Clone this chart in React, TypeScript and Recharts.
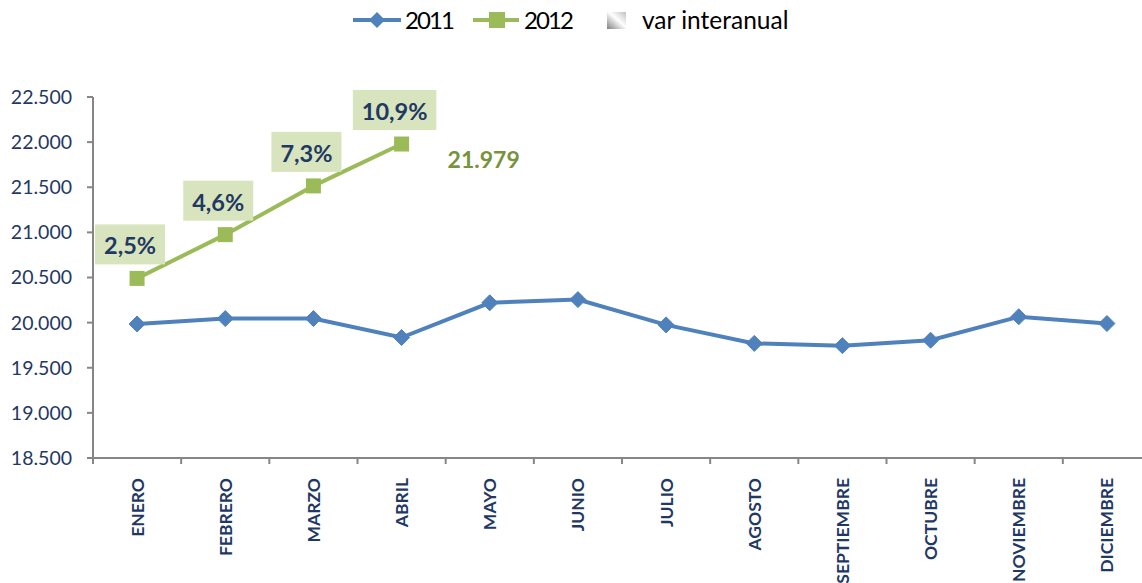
import React from 'react';
import { LineChart, Line, XAxis, YAxis, LabelList } from 'recharts';

const categories = ['ENERO', 'FEBRERO', 'MARZO', 'ABRIL', 'MAYO', 'JUNIO', 'JULIO', 'AGOSTO', 'SEPTIEMBRE', 'OCTUBRE', 'NOVIEMBRE', 'DICIEMBRE'];
const values2011 = [19985, 20045, 20045, 19835, 20220, 20255, 19975, 19770, 19745, 19805, 20065, 19990];
const values2012 = [20490, 20975, 21515, 21979];
const varLabels = ['2,5%', '4,6%', '7,3%', '10,9%'];
const yTicks = [18500, 19000, 19500, 20000, 20500, 21000, 21500, 22000, 22500];

const BLUE = '#4F81BD';
const GREEN = '#9BBB59';
const DARKGREEN = '#77933C';
const NAVY = '#1F3864';
const AXIS = '#868686';
const FONT = 'Lato, "Noto Sans", sans-serif';

const data = categories.map((mes, i) => ({
  mes,
  y2011: values2011[i],
  y2012: i < values2012.length ? values2012[i] : null,
  varLabel: i < varLabels.length ? varLabels[i] : null,
}));

const fmt = (v: number) => v.toLocaleString('de-DE');

const Diamond = (props: any) => {
  const { cx, cy } = props;
  if (cx == null || cy == null) return null;
  const r = 8;
  return <path d={`M${cx},${cy - r}L${cx + r},${cy}L${cx},${cy + r}L${cx - r},${cy}Z`} fill={BLUE} stroke={BLUE} strokeWidth={1} />;
};

const Square = (props: any) => {
  const { cx, cy, value } = props;
  if (cx == null || cy == null || value == null) return null;
  const s = 7.5;
  return <rect x={cx - s} y={cy - s} width={s * 2} height={s * 2} fill={GREEN} />;
};

const VarLabel = (props: any) => {
  const { x, y, value } = props;
  if (value == null || x == null || y == null) return null;
  const text = String(value);
  const w = 16 + 13.5 * text.length;
  const h = 40;
  const cx = x - 7;
  const bottom = y - 14;
  return (
    <g>
      <rect x={cx - w / 2} y={bottom - h} width={w} height={h} fill="#D7E4BD" />
      <text x={cx} y={bottom - h / 2 + 1} textAnchor="middle" dominantBaseline="central" fill={NAVY} fontFamily={FONT} fontWeight={700} fontSize={23.5}>
        {text}
      </text>
    </g>
  );
};

const lastIdx2012 = values2012.length - 1;

const ValueLabel = (props: any) => {
  const { x, y, value, index } = props;
  if (index !== lastIdx2012 || value == null) return null;
  return (
    <text x={x + 46} y={y + 15} dominantBaseline="central" fill={DARKGREEN} fontFamily={FONT} fontWeight={700} fontSize={23}>
      {fmt(Number(value))}
    </text>
  );
};

const XTick = (props: any) => {
  const { x, y, payload } = props;
  const half = payload && payload.offset ? payload.offset : 1058 / 24;
  const y0 = y - 8;
  return (
    <g>
      <line x1={x - half} y1={y0} x2={x - half} y2={y0 + 6} stroke={AXIS} strokeWidth={2} />
      <text
        x={x}
        y={y0 + 20}
        transform={`rotate(-90, ${x}, ${y0 + 20})`}
        textAnchor="end"
        dominantBaseline="central"
        fill={NAVY}
        fontFamily={FONT}
        fontWeight={700}
        fontSize={17.5}
      >
        {payload.value}
      </text>
    </g>
  );
};

const LegendBar = () => (
  <svg width={1142} height={40} style={{ position: 'absolute', left: 0, top: 0 }}>
    <defs>
      <linearGradient id="gradVar" x1="0" y1="1" x2="1" y2="0">
        <stop offset="0%" stopColor="#7f7f7f" />
        <stop offset="55%" stopColor="#ffffff" />
        <stop offset="100%" stopColor="#bfbfbf" />
      </linearGradient>
    </defs>
    <line x1={353} y1={20} x2={401} y2={20} stroke={BLUE} strokeWidth={4} />
    <path d="M377,12L385,20L377,28L369,20Z" fill={BLUE} />
    <text x={405} y={29} fontFamily={FONT} fontSize={24} fill="#000" textLength={50}>2011</text>
    <line x1={473} y1={20} x2={519} y2={20} stroke={GREEN} strokeWidth={4} />
    <rect x={489} y={12} width={16} height={16} fill={GREEN} />
    <text x={524} y={29} fontFamily={FONT} fontSize={24} fill="#000" textLength={50}>2012</text>
    <rect x={607} y={12} width={19} height={17} fill="url(#gradVar)" />
    <text x={642} y={29} fontFamily={FONT} fontSize={24.5} fill="#000">var interanual</text>
  </svg>
);

export default function App() {
  return (
    <div style={{ position: 'absolute', left: 0, top: 0, width: 1142, height: 583, overflow: 'hidden', background: '#fff' }}>
      <LineChart width={1151} height={583} data={data} margin={{ top: 97, right: 0, bottom: 0, left: 0 }}>
        <XAxis
          dataKey="mes"
          scale="band"
          height={125}
          interval={0}
          tickLine={false}
          tickSize={6}
          tickMargin={2}
          axisLine={{ stroke: AXIS, strokeWidth: 2 }}
          tick={<XTick />}
        />
        <YAxis
          width={93}
          domain={[18500, 22500]}
          ticks={yTicks}
          interval={0}
          tickFormatter={fmt}
          tickSize={6}
          tickMargin={15}
          axisLine={{ stroke: AXIS, strokeWidth: 2 }}
          tickLine={{ stroke: AXIS, strokeWidth: 2 }}
          tick={{ fill: NAVY, fontFamily: FONT, fontSize: 19.5 }}
        />
        <Line dataKey="y2011" stroke={BLUE} strokeWidth={4} dot={<Diamond />} activeDot={false} isAnimationActive={false} />
        <Line dataKey="y2012" stroke={GREEN} strokeWidth={4} dot={<Square />} activeDot={false} isAnimationActive={false}>
          <LabelList dataKey="varLabel" content={<VarLabel />} />
          <LabelList dataKey="y2012" content={<ValueLabel />} />
        </Line>
      </LineChart>
      <LegendBar />
    </div>
  );
}
